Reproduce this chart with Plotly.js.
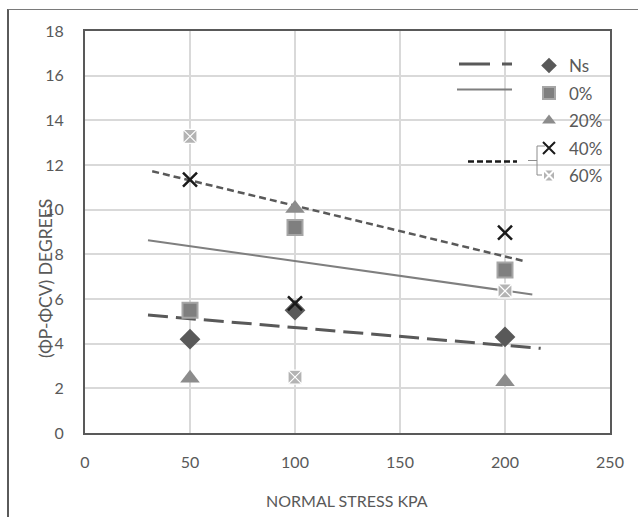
<!DOCTYPE html>
<html>
<head>
<meta charset="utf-8">
<script src="https://cdn.plot.ly/plotly-3.0.1.min.js"></script>
<style>
  html, body { margin: 0; padding: 0; background: #fff; overflow: hidden; }
  #chart { position: absolute; left: 0; top: 0; width: 638px; height: 517px; }
  #frame { position: absolute; left: 7px; top: 9px; width: 700px; height: 600px;
           border-left: 2px solid #5a5a5a; border-top: 1.5px solid #7a7a7a; pointer-events: none; }
</style>
</head>
<body>
<div id="chart"></div>
<div id="frame"></div>
<script>
// ---- data ----
const stress = [50, 100, 200];
const ns   = [4.2, 5.5, 4.3];
const p0   = [5.5, 9.2, 7.3];
const p20  = [2.45, 10.05, 2.3];
const p40  = [11.35, 5.8, 8.97];
const p60  = [13.28, 2.5, 6.36];
const seriesNames = ["Ns", "0%", "20%", "40%", "60%"];
// trendlines (start/end)
const trendLongX  = [30, 217];
const trendLongY  = [5.28, 3.79];
const trendSolidX = [30, 213];
const trendSolidY = [8.63, 6.2];
const trendShortX = [32, 209];
const trendShortY = [11.72, 7.7];
const xTicks = [0, 50, 100, 150, 200, 250];
const yTicks = [0, 2, 4, 6, 8, 10, 12, 14, 16, 18];

// ---- geometry helpers (plot area pixels) ----
const W = 638, H = 517;
const L = 85, R = 610, T = 31, B = 433;
const px = x => (x - L) / (R - L);
const py = y => (B - y) / (B - T);

const FONT = "Lato, 'Open Sans', sans-serif";
const TXT = "#595959";

const traces = [
  {x: trendLongX, y: trendLongY, mode: "lines", showlegend: false,
   line: {color: "#595959", width: 3, dash: "20px,8px"}},
  {x: trendSolidX, y: trendSolidY, mode: "lines", showlegend: false,
   line: {color: "#7f7f7f", width: 2}},
  {x: trendShortX, y: trendShortY, mode: "lines", showlegend: false,
   line: {color: "#595959", width: 2.5, dash: "7px,4px"}},
  {x: stress, y: ns, name: seriesNames[0], mode: "markers", legendgroup: "a",
   marker: {symbol: "diamond", size: 16, color: "#595959"}},
  {x: stress, y: p0, name: seriesNames[1], mode: "markers", legendgroup: "b",
   marker: {symbol: "square", size: 15, color: "#7f7f7f", line: {color: "#a6a6a6", width: 2}}},
  {x: stress, y: p20, name: seriesNames[2], mode: "markers", legendgroup: "c",
   marker: {symbol: "triangle-up", size: 17, color: "#8c8c8c"}},
  {x: stress, y: p40, name: seriesNames[3], mode: "markers", legendgroup: "d",
   marker: {symbol: "x-thin", size: 14, color: "#1a1a1a", line: {color: "#1a1a1a", width: 2.5}}},
  {x: stress, y: p60, name: seriesNames[4], mode: "markers", legendgroup: "e",
   marker: {symbol: "square-x", size: 14, color: "#b3b3b3", line: {color: "#ffffff", width: 1.2}}}
];

const shapes = [
  // legend line samples
  {type: "line", xref: "paper", yref: "paper", x0: px(459), x1: px(512), y0: py(64), y1: py(64),
   line: {color: "#595959", width: 3, dash: "31px,12px"}},
  {type: "line", xref: "paper", yref: "paper", x0: px(457), x1: px(512), y0: py(89.5), y1: py(89.5),
   line: {color: "#7f7f7f", width: 2}},
  {type: "line", xref: "paper", yref: "paper", x0: px(468), x1: px(517), y0: py(161.5), y1: py(161.5),
   line: {color: "#1a1a1a", width: 2.5, dash: "6px,3px"}},
  // bracket
  {type: "path", xref: "paper", yref: "paper",
   path: "M " + px(545) + " " + py(146) + " L " + px(537) + " " + py(146) + " L " + px(537) + " " + py(175) + " L " + px(545) + " " + py(175),
   line: {color: "#8c8c8c", width: 1}},
  {type: "line", xref: "paper", yref: "paper", x0: px(528), x1: px(537), y0: py(160.5), y1: py(160.5),
   line: {color: "#8c8c8c", width: 1}}
];

const layout = {
  width: W, height: H,
  margin: {l: L, r: W - R, t: T, b: H - B, pad: 0},
  paper_bgcolor: "#fff", plot_bgcolor: "#fff",
  font: {family: FONT, size: 15, color: TXT},
  xaxis: {range: [0, 250], tickvals: xTicks, ticktext: xTicks.map(String),
          showgrid: true, gridcolor: "#d9d9d9", gridwidth: 2, zeroline: false,
          showline: true, mirror: true, linecolor: "#595959", linewidth: 2,
          ticks: "", ticklabelstandoff: 14, tickfont: {family: FONT, size: 16, color: TXT}},
  yaxis: {range: [0, 18], tickvals: yTicks, ticktext: yTicks.map(String),
          showgrid: true, gridcolor: "#d9d9d9", gridwidth: 2, zeroline: false,
          showline: true, mirror: true, linecolor: "#595959", linewidth: 2,
          ticks: "", ticklabelstandoff: 16, tickfont: {family: FONT, size: 16, color: TXT}},
  showlegend: true,
  legend: {x: px(529), y: py(48), xanchor: "left", yanchor: "top",
           bgcolor: "rgba(0,0,0,0)", borderwidth: 0, traceorder: "grouped",
           tracegroupgap: 2.4, itemsizing: "constant",
           font: {family: FONT, size: 17, color: TXT}},
  annotations: [
    {text: "NORMAL STRESS KPA", xref: "paper", yref: "paper", x: px(347), y: py(501),
     xanchor: "center", yanchor: "middle", showarrow: false,
     font: {family: FONT, size: 16, color: TXT}},
    {text: "(ΦP-ΦCV) DEGREES", xref: "paper", yref: "paper", x: px(45), y: py(278),
     xanchor: "center", yanchor: "middle", textangle: -90, showarrow: false,
     font: {family: FONT, size: 17.5, color: TXT}}
  ],
  shapes: shapes,
  hovermode: false
};

Plotly.newPlot("chart", traces, layout, {displayModeBar: false, staticPlot: true});
</script>
</body>
</html>
